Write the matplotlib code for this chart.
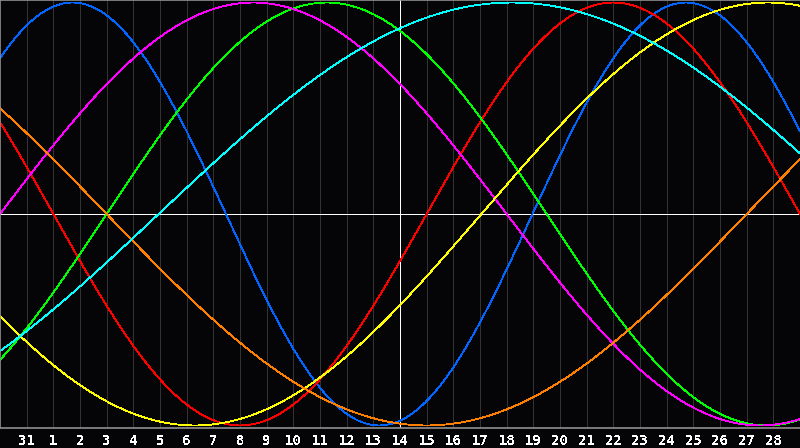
import numpy as np
import matplotlib
matplotlib.use("Agg")
import matplotlib.pyplot as plt

# ------------------------------
#   Chart data
# ------------------------------
day_labels = [31] + list(range(1, 29))      # labels on gridlines 1..29
cycle_names = ["physical", "emotional", "intellectual", "intuitive",
               "aesthetic", "awareness", "spiritual"]
periods = [23, 28, 33, 38, 43, 48, 53]                    # days
peak_days = [2.72, 23.0, 12.25, 9.5, 28.8, -8.0, 19.2]    # day index of a peak
colors = ["#0066ff", "#ff0000", "#00ff00", "#ff00ff",
          "#ffff00", "#ff8000", "#00ffff"]

n_days = 30
today_index = 15

plt.rcParams["lines.antialiased"] = False
plt.rcParams["text.antialiased"] = False

fig = plt.figure(figsize=(8, 4.48), dpi=100, facecolor="#050508")
ax = fig.add_axes([0, 20 / 448, 1, 428 / 448])
ax.set_facecolor("#050508")

# ------------------------------
#   Grid
# ------------------------------
for i in range(1, n_days):
    c = "#ffffff" if i == today_index else "#333333"
    ax.axvline(i, color=c, lw=0.72, zorder=1)
ax.axhline(0, color="#ffffff", lw=0.72, zorder=1)

# ------------------------------
#   Cycles
# ------------------------------
t = np.linspace(0, n_days, 1601)
for name, p, pk, col in zip(cycle_names, periods, peak_days, colors):
    y = np.cos(2 * np.pi * (t - pk) / p)
    ax.plot(t, y, color=col, lw=0.6, zorder=2, label=name)

ax.set_xlim(0, n_days)
ax.set_ylim(-1.012, 1.012)

ax.set_xticks(range(1, len(day_labels) + 1))
ax.set_xticklabels([str(d) for d in day_labels])
ax.tick_params(axis="x", length=0, pad=4, colors="#ffffff",
               labelsize=10)
for lab in ax.get_xticklabels():
    lab.set_fontfamily("DejaVu Sans Mono")
    lab.set_fontweight("bold")
ax.set_yticks([])

for side in ["left", "top", "bottom"]:
    ax.spines[side].set_color("#909090")
    ax.spines[side].set_linewidth(1.2)
ax.spines["right"].set_visible(False)

fig.savefig("out.png", dpi=100, facecolor=fig.get_facecolor())
